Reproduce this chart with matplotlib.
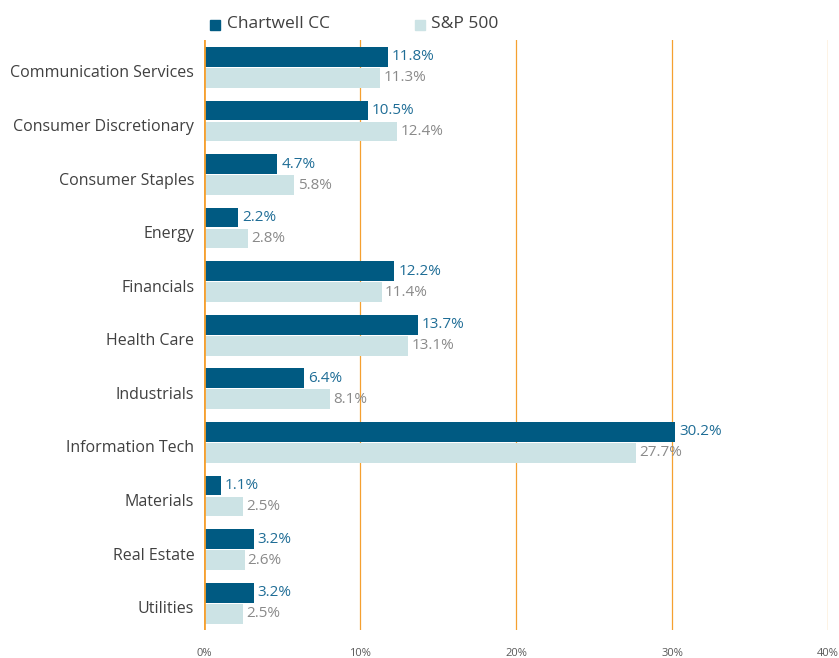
import matplotlib
matplotlib.use("Agg")
import matplotlib.pyplot as plt
from matplotlib.patches import Rectangle
from matplotlib.transforms import ScaledTranslation

categories = ["Communication Services", "Consumer Discretionary", "Consumer Staples",
              "Energy", "Financials", "Health Care", "Industrials", "Information Tech",
              "Materials", "Real Estate", "Utilities"]
chartwell = [11.8, 10.5, 4.7, 2.2, 12.2, 13.7, 6.4, 30.2, 1.1, 3.2, 3.2]
sp500 = [11.3, 12.4, 5.8, 2.8, 11.4, 13.1, 8.1, 27.7, 2.5, 2.6, 2.5]
series_names = ["Chartwell CC", "S&P 500"]
xticks = [0, 10, 20, 30, 40]
xtick_labels = ["0%", "10%", "20%", "30%", "40%"]

dark = "#005a82"
light = "#cce3e5"
orange = "#f5a030"
font = ["Open Sans", "DejaVu Sans"]
plt.rcParams["font.family"] = font

W, H = 839, 658
fig = plt.figure(figsize=(W / 100, H / 100), dpi=100)
ax = fig.add_axes([204 / W, (H - 630) / H, 624 / W, 590 / H])

bh = 0.368
off = bh / 2 + 0.012
ys = list(range(len(categories)))
ax.barh([y - off for y in ys], chartwell, height=bh, color=dark, zorder=3)
ax.barh([y + off for y in ys], sp500, height=bh, color=light, zorder=3)

for y, v in zip(ys, chartwell):
    ax.text(v + 0.25, y - off, f"{v:.1f}%", va="center", ha="left",
            fontsize=11, color="#1f6d96", zorder=4)
for y, v in zip(ys, sp500):
    ax.text(v + 0.2, y + off, f"{v:.1f}%", va="center", ha="left",
            fontsize=11, color="#8a8a8a", zorder=4)

ax.set_xlim(0, 40)
ax.set_ylim(10.5, -0.51)
ax.set_xticks(xticks)
ax.set_xticklabels(xtick_labels, fontsize=8, color="#595959")
ax.tick_params(axis="both", length=0)
ax.tick_params(axis="x", pad=13)
ax.set_yticks(ys)
ax.set_yticklabels(categories, fontsize=11.5, color="#404040")
ax.tick_params(axis="y", pad=7)
shift = ScaledTranslation(0, -0.04, fig.dpi_scale_trans)
for lab in ax.get_yticklabels():
    lab.set_transform(lab.get_transform() + shift)
for s in ax.spines.values():
    s.set_visible(False)
for x in xticks[1:]:
    ax.axvline(x, color=orange, lw=0.9, zorder=1)
ax.axvline(0, color=orange, lw=2, zorder=5)

# legend
fig.patches.append(Rectangle((210 / W, (H - 30) / H), 10 / W, 10 / H,
                             transform=fig.transFigure, color=dark, figure=fig))
fig.text(227 / W, (H - 24) / H, series_names[0], fontsize=12.5, color="#404040", va="center")
fig.patches.append(Rectangle((415 / W, (H - 30) / H), 10 / W, 10 / H,
                             transform=fig.transFigure, color=light, figure=fig))
fig.text(431 / W, (H - 24) / H, series_names[1], fontsize=12.5, color="#404040", va="center")

fig.savefig("out.png", dpi=100)
